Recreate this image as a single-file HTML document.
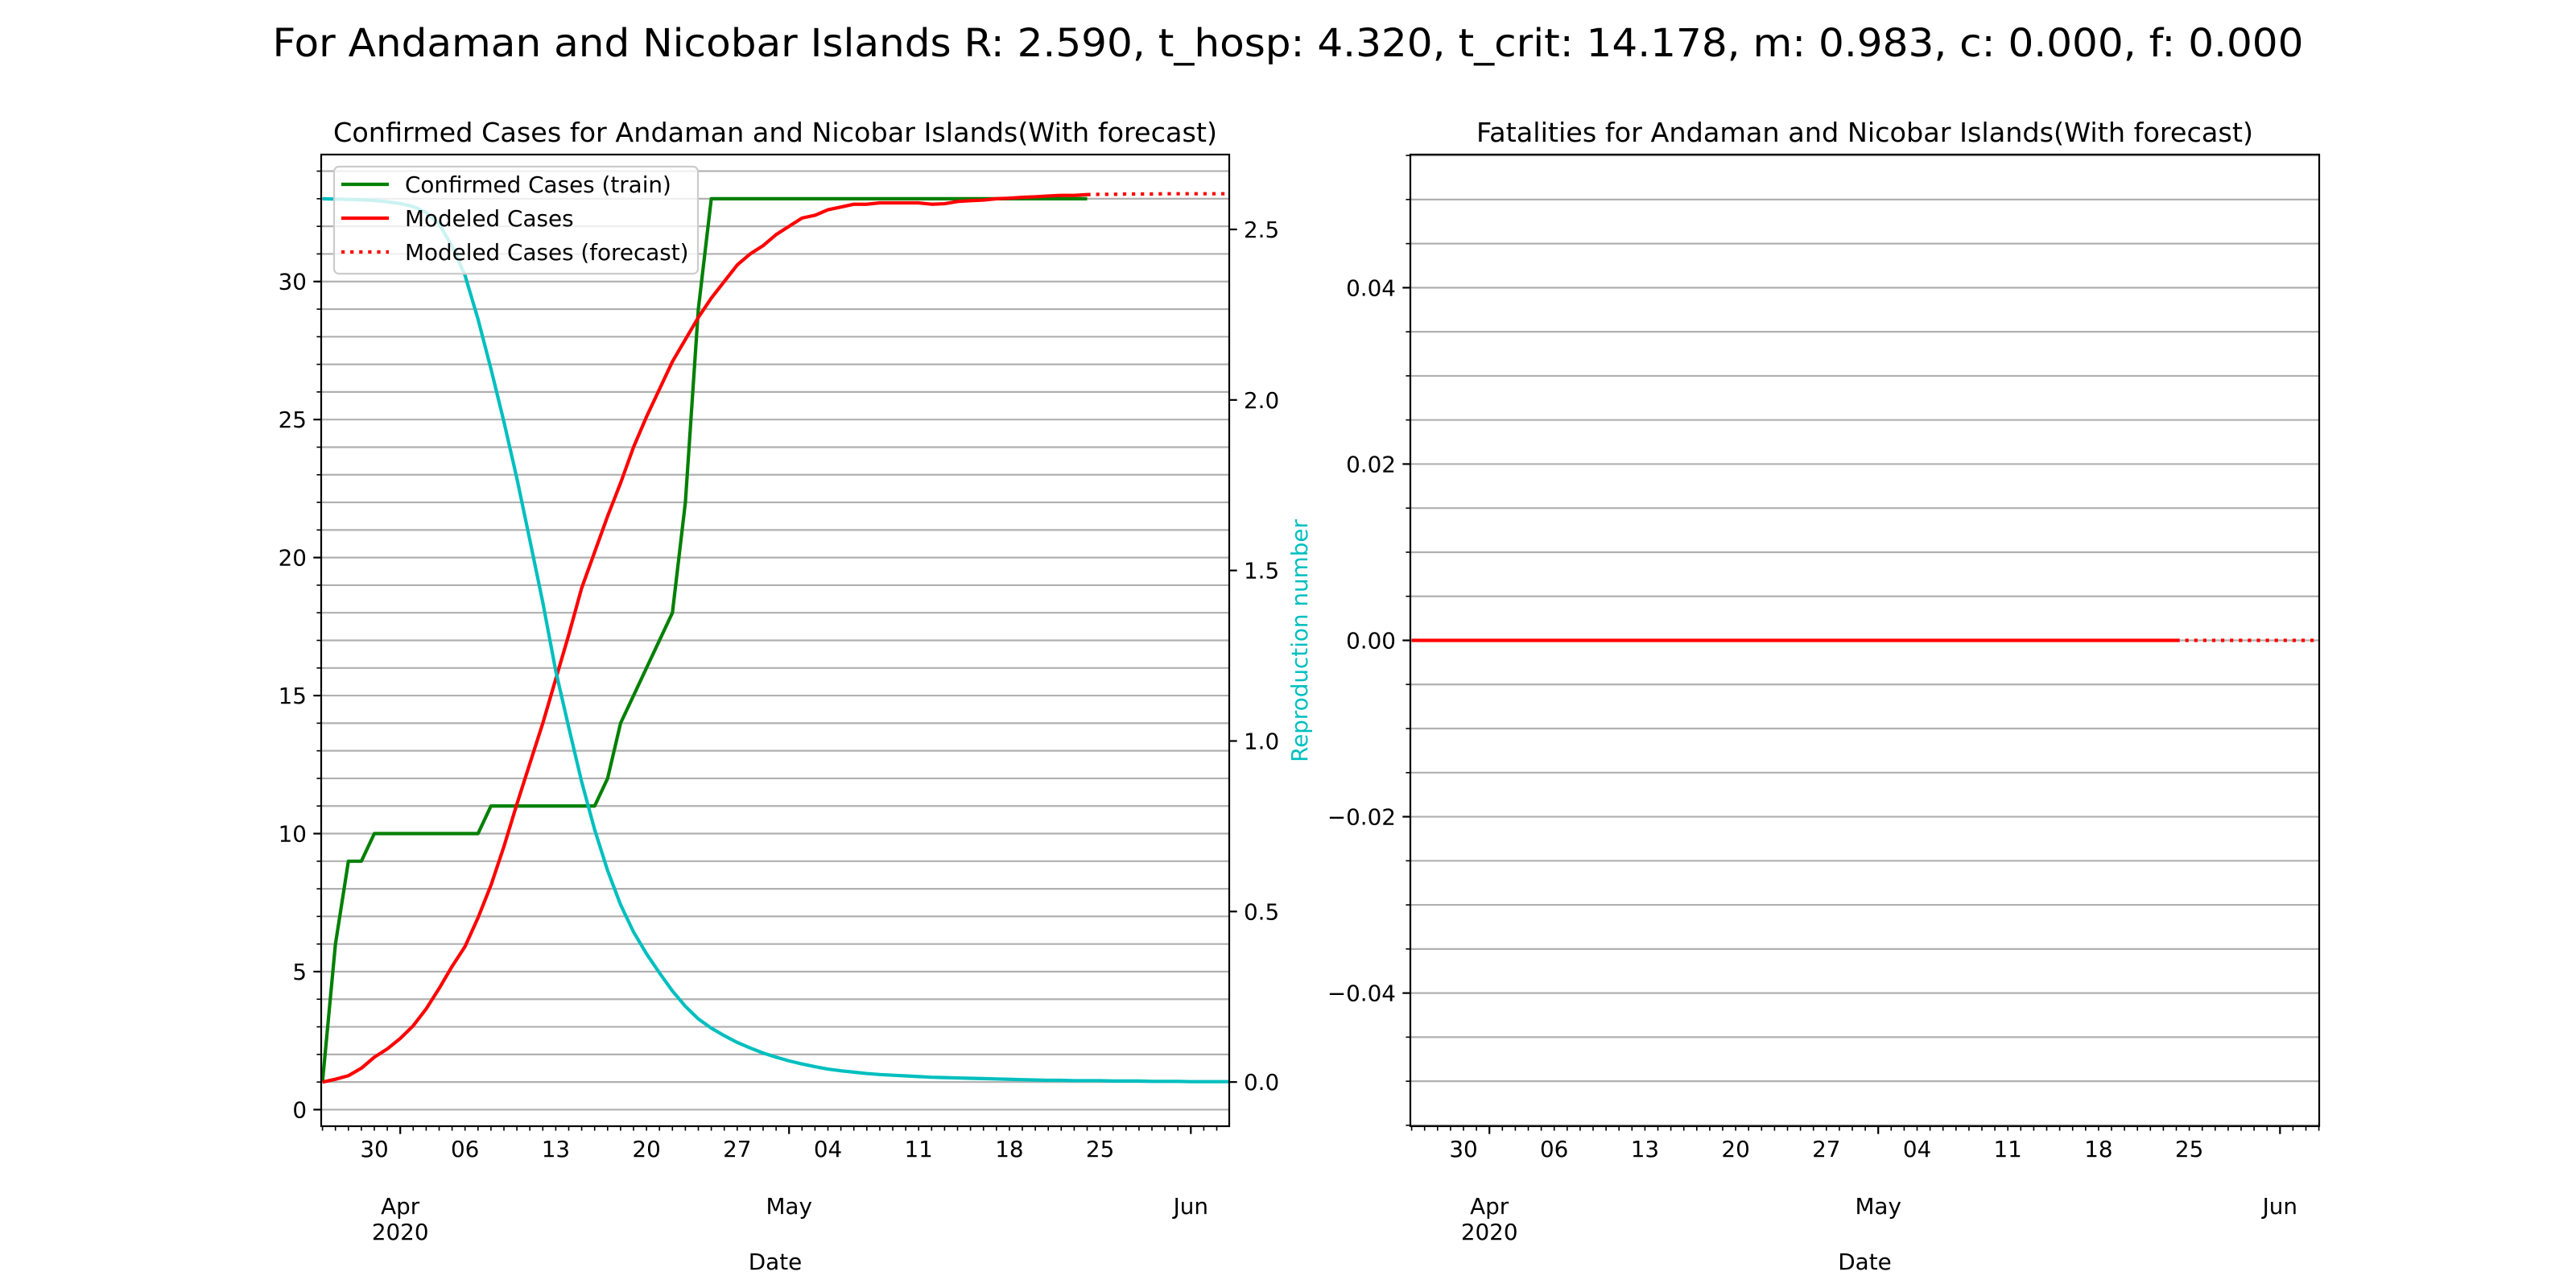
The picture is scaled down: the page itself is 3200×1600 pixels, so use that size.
<!DOCTYPE html>
<html><head><meta charset="utf-8"><title>Andaman and Nicobar Islands</title>
<style>
html,body{margin:0;padding:0;background:#fff;}
svg{display:block;font-family:"DejaVu Sans","Liberation Sans",sans-serif;}
</style></head>
<body>
<svg id="fig" xmlns="http://www.w3.org/2000/svg" width="3200" height="1600" viewBox="0 0 3200 1600">
<defs>
<clipPath id="clipL"><rect x="399" y="192" width="1128" height="1207"/></clipPath>
<clipPath id="clipR"><rect x="1752" y="192" width="1129" height="1207"/></clipPath>
</defs>
<rect x="0" y="0" width="3200" height="1600" fill="#fff"/>
<text x="1600" y="70" font-size="48" text-anchor="middle" textLength="2523" lengthAdjust="spacingAndGlyphs">For Andaman and Nicobar Islands R: 2.590, t_hosp: 4.320, t_crit: 14.178, m: 0.983, c: 0.000, f: 0.000</text>
<g id="left"></g>
<g id="right"></g>
</svg>
<script>
// ---- data (day index 0 = 2020-03-26) ----
const weekTickDays = [4, 11, 18, 25, 32, 39, 46, 53, 60];
const weekTickLabels = ["30", "06", "13", "20", "27", "04", "11", "18", "25"];
const monthTickDays = [6, 36, 67];
const monthTickLabels = ["Apr", "May", "Jun"];
const confirmedTrain = [1,6,9,9,10,10,10,10,10,10,10,10,10,11,11,11,11,11,11,11,11,11,12,14,15,16,17,18,22,29,33,33,33,33,33,33,33,33,33,33,33,33,33,33,33,33,33,33,33,33,33,33,33,33,33,33,33,33,33,33];
const modeledCases = [1,1.1,1.23,1.5,1.9,2.2,2.58,3.04,3.65,4.39,5.19,5.91,6.95,8.13,9.53,11.07,12.54,14.0,15.6,17.2,18.9,20.2,21.5,22.7,24.0,25.1,26.1,27.1,27.9,28.7,29.4,30.0,30.6,31.0,31.3,31.7,32.0,32.3,32.4,32.6,32.7,32.8,32.8,32.85,32.85,32.85,32.85,32.8,32.82,32.9,32.93,32.95,33.0,33.02,33.05,33.07,33.1,33.12,33.12,33.15];
const forecastStartDay = 59;
const modeledForecast = [33.15,33.16,33.16,33.17,33.17,33.17,33.18,33.18,33.18,33.18,33.18,33.18];
const reproduction = [2.59,2.589,2.588,2.587,2.585,2.581,2.576,2.567,2.55,2.516,2.45,2.365,2.237,2.091,1.936,1.77,1.589,1.406,1.205,1.04,0.88,0.74,0.62,0.52,0.44,0.376,0.32,0.267,0.222,0.185,0.158,0.136,0.116,0.1,0.085,0.073,0.062,0.053,0.045,0.038,0.033,0.029,0.025,0.022,0.02,0.018,0.016,0.014,0.013,0.012,0.011,0.01,0.009,0.008,0.007,0.006,0.005,0.005,0.004,0.004,0.004,0.003,0.003,0.003,0.002,0.002,0.002,0.001,0.001,0.001,0.001];
const fatalitiesModeled = [0,0,0,0,0,0,0,0,0,0,0,0,0,0,0,0,0,0,0,0,0,0,0,0,0,0,0,0,0,0,0,0,0,0,0,0,0,0,0,0,0,0,0,0,0,0,0,0,0,0,0,0,0,0,0,0,0,0,0,0];
const fatalitiesForecast = [0,0,0,0,0,0,0,0,0,0,0,0];
const leftYTicks = [0, 5, 10, 15, 20, 25, 30];
const rightYTicks = [0.0, 0.5, 1.0, 1.5, 2.0, 2.5];
const fatYTicks = [-0.04, -0.02, 0.0, 0.02, 0.04];

const NS = "http://www.w3.org/2000/svg";
function mk(parent, tag, attrs) {
  const e = document.createElementNS(NS, tag);
  for (const k in attrs) e.setAttribute(k, attrs[k]);
  parent.appendChild(e);
  return e;
}
const TOP = 192, BOT = 1399, DAYPX = 16.1;
const GRID = "#b0b0b0", FS = 27.8;

function linePath(xs, ys) {
  return xs.map((x, i) => (i ? "L" : "M") + x.toFixed(2) + "," + ys[i].toFixed(2)).join("");
}

function drawAxes(g, L, R, yMin, yMax, minorStep, majorTicks, fmt, title, titleLen) {
  const xs = d => L + 1.6 + DAYPX * d;
  const ys = v => BOT - (v - yMin) / (yMax - yMin) * (BOT - TOP);
  const n0 = Math.ceil(yMin / minorStep - 1e-9), n1 = Math.floor(yMax / minorStep + 1e-9);
  for (let k = n0; k <= n1; k++) {
    const y = ys(k * minorStep);
    const gl = mk(g, "line", {x1: L, x2: R, y1: y, y2: y, stroke: GRID, "stroke-width": 2.2});
    
    
    const t = mk(g, "line", {x1: L - 5.6, x2: L, y1: y, y2: y, stroke: "#000", "stroke-width": 1.6});
    
    
  }
  majorTicks.forEach(v => {
    const y = ys(v);
    const t = mk(g, "line", {x1: L - 9.7, x2: L, y1: y, y2: y, stroke: "#000", "stroke-width": 2.2});
    
    
    const tx = mk(g, "text", {x: L - 18, y: y + 10, "font-size": FS, "text-anchor": "end"});
    tx.textContent = fmt(v);
    
    
  });
  for (let d = 0; (L + 1.6 + DAYPX * d) <= R + 0.5; d++) {
    const x = xs(d);
    const major = monthTickDays.indexOf(d) >= 0;
    const t = mk(g, "line", {x1: x, x2: x, y1: BOT, y2: BOT + (major ? 9.7 : 5.6), stroke: "#000", "stroke-width": major ? 2.2 : 1.6});
    
    
  }
  weekTickDays.forEach((d, i) => {
    const tx = mk(g, "text", {x: xs(d), y: 1437, "font-size": FS, "text-anchor": "middle"});
    tx.textContent = weekTickLabels[i];
    
    
  });
  monthTickDays.forEach((d, i) => {
    const tx = mk(g, "text", {x: xs(d), y: 1508, "font-size": FS, "text-anchor": "middle"});
    tx.textContent = monthTickLabels[i];
    
    
  });
  const yr = mk(g, "text", {x: xs(monthTickDays[0]), y: 1540, "font-size": FS, "text-anchor": "middle"});
  yr.textContent = "2020";
  
  
  const xl = mk(g, "text", {x: (L + R) / 2, y: 1577, "font-size": FS, "text-anchor": "middle"});
  xl.textContent = "Date";
  
  
  const tt = mk(g, "text", {x: (L + R) / 2, y: 176, "font-size": 33, "text-anchor": "middle", textLength: titleLen, lengthAdjust: "spacingAndGlyphs"});
  tt.textContent = title;
  
  
  return {xs, ys};
}

function frame(g, L, R) {
  const f = mk(g, "rect", {x: L, y: TOP, width: R - L, height: BOT - TOP, fill: "none", stroke: "#000", "stroke-width": 2.2});
  
  
}

// ---------- LEFT ----------
const gL = document.getElementById("left");
const L1 = 399, R1 = 1527;
const a1 = drawAxes(gL, L1, R1, -0.6, 34.6, 1, leftYTicks, v => String(v),
  "Confirmed Cases for Andaman and Nicobar Islands(With forecast)", 1098);
const rMin = -0.1295, rMax = 2.7195;
const yR = v => BOT - (v - rMin) / (rMax - rMin) * (BOT - TOP);
rightYTicks.forEach(v => {
  const y = yR(v);
  const t = mk(gL, "line", {x1: R1, x2: R1 + 9.7, y1: y, y2: y, stroke: "#000", "stroke-width": 2.2});
  
  
  const tx = mk(gL, "text", {x: R1 + 18, y: y + 10, "font-size": FS});
  tx.textContent = v.toFixed(1);
  
  
});
const rl = mk(gL, "text", {x: 0, y: 0, "font-size": FS, fill: "#00bfbf", "text-anchor": "middle", transform: "translate(1624,796) rotate(-90)"});
rl.textContent = "Reproduction number";



const sL = mk(gL, "g", {"clip-path": "url(#clipL)"});


const green = mk(sL, "path", {d: linePath(confirmedTrain.map((v, i) => a1.xs(i)), confirmedTrain.map(v => a1.ys(v))), fill: "none", stroke: "#008000", "stroke-width": 4.2, "stroke-linejoin": "round"});


const red = mk(sL, "path", {d: linePath(modeledCases.map((v, i) => a1.xs(i)), modeledCases.map(v => a1.ys(v))), fill: "none", stroke: "#ff0000", "stroke-width": 4.2, "stroke-linejoin": "round"});


const redF = mk(sL, "path", {d: linePath(modeledForecast.map((v, i) => a1.xs(forecastStartDay + i)), modeledForecast.map(v => a1.ys(v))), fill: "none", stroke: "#ff0000", "stroke-width": 4.2, "stroke-dasharray": "4.2 6.9"});


const cyan = mk(sL, "path", {d: linePath(reproduction.map((v, i) => a1.xs(i)), reproduction.map(v => yR(v))), fill: "none", stroke: "#00bfbf", "stroke-width": 4.2, "stroke-linejoin": "round"});


frame(gL, L1, R1);

const lg = mk(gL, "g", {});


const lb = mk(lg, "rect", {x: 415, y: 207, width: 452, height: 133, rx: 6, fill: "rgba(255,255,255,0.8)", stroke: "#cccccc", "stroke-width": 2.2});


const legendLabels = ["Confirmed Cases (train)", "Modeled Cases", "Modeled Cases (forecast)"];
const legendColors = ["#008000", "#ff0000", "#ff0000"];
legendLabels.forEach((s, i) => {
  const y = 229 + 42 * i;
  const ln = mk(lg, "line", {x1: 424, x2: 483, y1: y, y2: y, stroke: legendColors[i], "stroke-width": 4.2});
  if (i === 2) ln.setAttribute("stroke-dasharray", "4.2 6.9");
  
  
  const tx = mk(lg, "text", {x: 503, y: y + 10, "font-size": FS});
  tx.textContent = s;
  
  
});

// ---------- RIGHT ----------
const gR = document.getElementById("right");
const L2 = 1752, R2 = 2881;
const a2 = drawAxes(gR, L2, R2, -0.0551, 0.0551, 0.005, fatYTicks, v => (v < 0 ? "\u2212" : "") + Math.abs(v).toFixed(2),
  "Fatalities for Andaman and Nicobar Islands(With forecast)", 965);
const sR = mk(gR, "g", {"clip-path": "url(#clipR)"});


const fr = mk(sR, "path", {d: linePath(fatalitiesModeled.map((v, i) => a2.xs(i)), fatalitiesModeled.map(v => a2.ys(v))), fill: "none", stroke: "#ff0000", "stroke-width": 4.2});


const frF = mk(sR, "path", {d: linePath(fatalitiesForecast.map((v, i) => a2.xs(forecastStartDay + i)), fatalitiesForecast.map(v => a2.ys(v))), fill: "none", stroke: "#ff0000", "stroke-width": 4.2, "stroke-dasharray": "4.2 6.9"});


frame(gR, L2, R2);
</script>
</body></html>
